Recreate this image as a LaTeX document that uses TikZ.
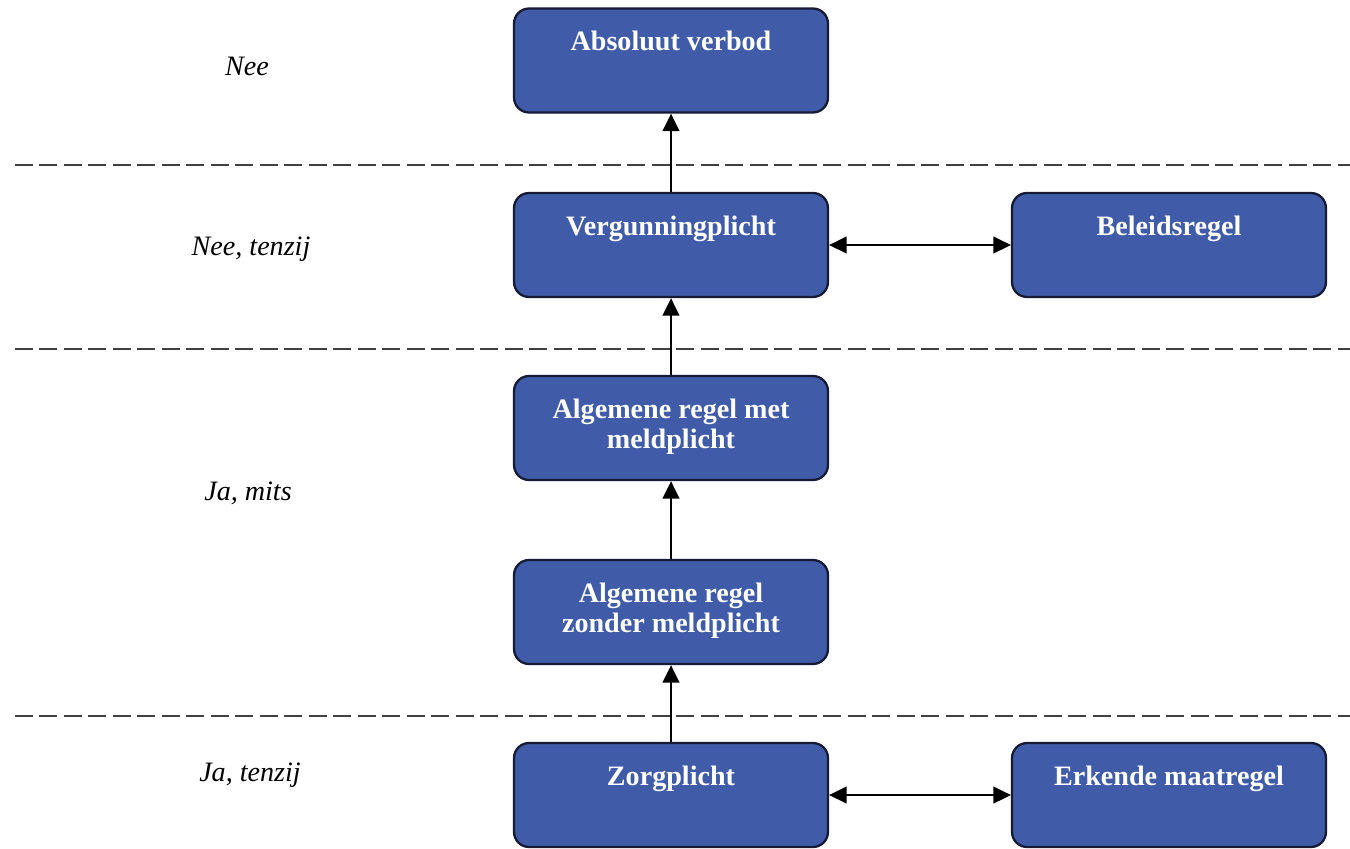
\documentclass[tikz,border=0pt]{standalone}
\usepackage{fontspec}
\setmainfont{Liberation Serif}
\usetikzlibrary{arrows.meta,positioning}
\definecolor{kastblauw}{RGB}{64,92,168}
\definecolor{kastrand}{RGB}{22,26,52}
\newcommand{\kasttekst}[1]{\parbox[c][1.18cm][t]{6cm}{\centering\fontsize{16}{17.5}\selectfont\bfseries #1}}

\begin{document}
\begin{tikzpicture}[x=0.02cm,y=-0.02cm,
      stap/.style={rectangle, rounded corners=0.3cm, draw=kastrand, line width=1.3pt, fill=kastblauw, text=white, inner sep=0pt, minimum width=6.28cm, minimum height=2.08cm},
      niveau/.style={anchor=base, font=\fontsize{16}{18}\selectfont\itshape},
      grens/.style={line width=1.6pt, dash pattern=on 0.36cm off 0.13cm, black!75},
      pfeil/.style={line width=1.4pt, -{Triangle[length=10pt,width=9.5pt]}},
      dubbel/.style={line width=1.4pt, {Triangle[length=10pt,width=9.5pt]}-{Triangle[length=10pt,width=9.5pt]}}]

\useasboundingbox (0,0) rectangle (1350,849);

\node[stap] (absoluut) at (671,60.5) {\kasttekst{Absoluut verbod}};
\node[stap] (vergunning) at (671,245) {\kasttekst{Vergunningplicht}};
\node[stap] (beleid) at (1169,245) {\kasttekst{Beleidsregel}};
\node[stap] (met) at (671,428) {\kasttekst{Algemene regel met\\ meldplicht}};
\node[stap] (zonder) at (671,612) {\kasttekst{Algemene regel\\ zonder meldplicht}};
\node[stap] (zorg) at (671,795) {\kasttekst{Zorgplicht}};
\node[stap] (erkend) at (1169,795) {\kasttekst{Erkende maatregel}};

\node[niveau] (nee) at (247,75) {Nee};
\node[niveau] (neetenzij) at (251,255) {Nee, tenzij};
\node[niveau] (jamits) at (248,500) {Ja, mits};
\node[niveau] (jatenzij) at (250,781) {Ja, tenzij};

\draw[grens] (15,165) -- (1350,165);
\draw[grens] (15,349) -- (1350,349);
\draw[grens] (15,716) -- (1350,716);

\draw[pfeil] (vergunning) edge (absoluut);
\draw[pfeil] (met) edge (vergunning);
\draw[pfeil] (zonder) edge (met);
\draw[pfeil] (zorg) edge (zonder);
\draw[dubbel] (vergunning) edge (beleid);
\draw[dubbel] (zorg) edge (erkend);

\end{tikzpicture}
\end{document}
